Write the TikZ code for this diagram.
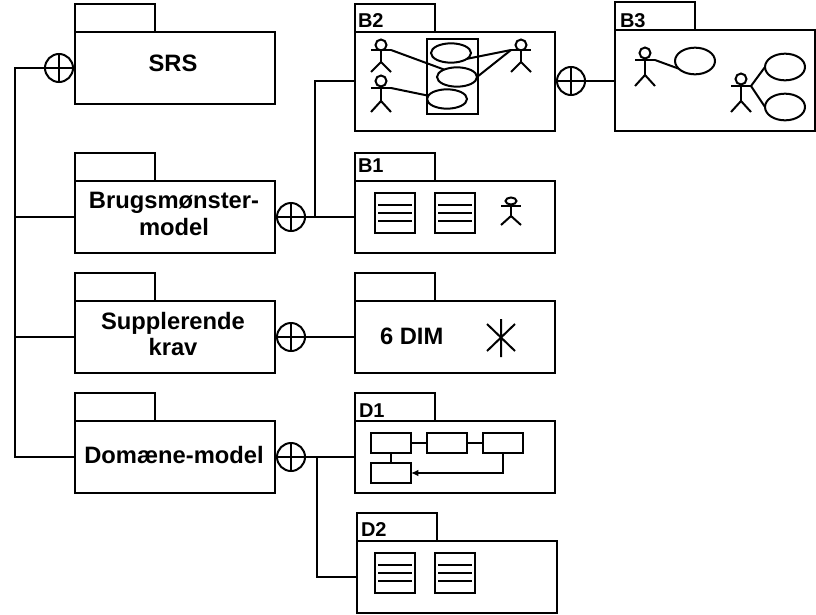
\documentclass[tikz,border=0pt]{standalone}
\usepackage{fontspec}
\setmainfont{Liberation Sans}
\usetikzlibrary{arrows.meta,shapes.geometric}
\tikzset{
  x=0.75pt,y=-0.75pt,
  every path/.style={line width=1.5pt,line join=miter},
  shape outline/.style={draw,line width=1.5pt,rectangle,inner sep=0pt,outer sep=0pt,anchor=north west},
  pkgbody/.style={shape outline,minimum width=150pt},
  pkgtab/.style={shape outline,minimum width=60pt,minimum height=21pt,anchor=south west},
  docbox/.style={shape outline,minimum width=30pt,minimum height=30pt},
  flowbox/.style={shape outline,minimum width=30pt,minimum height=15pt},
  uc/.style={draw,line width=1.5pt,ellipse,inner sep=0pt,outer sep=0pt,minimum width=30pt,minimum height=#1},
  uc/.default=14.5pt,
  plus/.style={draw,line width=1.5pt,circle,inner sep=0pt,outer sep=0pt,minimum size=21pt,fill=white,
    path picture={\draw[line width=1.5pt] (path picture bounding box.north)--(path picture bounding box.south)
      (path picture bounding box.west)--(path picture bounding box.east);}},
  mainlabel/.style={font=\fontsize{17.8pt}{20pt}\selectfont\bfseries,align=center,inner sep=0pt},
  tablabel/.style={font=\fontsize{15pt}{18pt}\selectfont\bfseries,anchor=base west,inner sep=0pt},
  conn/.style={line width=1.5pt}
}
% package: name, x, y of body top left, body height in pt
\newcommand{\pkgdraw}[4]{%
  \node[pkgbody,minimum height=#4] (#1) at (#2,#3) {};
  \node[pkgtab] (#1tab) at (#1.north west) {};
}
% actor: head x, head y, arm y, hip y, feet y, head ry
\newcommand{\actorfig}[6]{%
  \draw (#1,#2) ellipse [x radius=5.5,y radius=#6];
  \draw (#1,#2+#6) -- (#1,#4);
  \draw (#1-10,#3) -- (#1+10,#3);
  \draw (#1-10,#5) -- (#1,#4) -- (#1+10,#5);
}
\newcommand{\doclines}[2]{%
  \draw (#1+3,#2+12) -- (#1+37,#2+12) (#1+3,#2+20) -- (#1+37,#2+20) (#1+3,#2+28) -- (#1+37,#2+28);
}
\begin{document}
\begin{tikzpicture}
\useasboundingbox (0,0) rectangle (816,614);
% main packages
\pkgdraw{srs}{75}{32}{54pt}
\pkgdraw{brug}{75}{181}{54pt}
\pkgdraw{supp}{75}{301}{54pt}
\pkgdraw{dom}{75}{421}{54pt}
% detail packages
\pkgdraw{btwo}{355}{32}{74.25pt}
\pkgdraw{bone}{355}{181}{54pt}
\pkgdraw{six}{355}{301}{54pt}
\pkgdraw{done}{355}{421}{54pt}
\pkgdraw{dtwo}{357}{541}{54pt}
\pkgdraw{bthree}{615}{30}{75.75pt}
% main labels
\node[mainlabel] (lsrs) at (173,63) {SRS};
\node[mainlabel] (lbrug) at (174,214) {Brugsmønster-\\[0.2pt]model};
\node[mainlabel] (lsupp) at (173,334) {Supplerende\\[0.2pt]krav};
\node[mainlabel] (ldom) at (174,455) {Domæne-model};
\node[mainlabel,anchor=west] (lsix) at (379,336) {6 DIM};
% tab labels
\node[tablabel] (tbtwo) at (357,27) {B2};
\node[tablabel] (tbthree) at (619,27) {B3};
\node[tablabel] (tbone) at (357,172) {B1};
\node[tablabel] (tdone) at (358,417) {D1};
\node[tablabel] (tdtwo) at (360,536) {D2};
% plus circles
\node[plus] (psrs) at (59,68) {};
\node[plus] (pbrug) at (291,217) {};
\node[plus] (psupp) at (291,337) {};
\node[plus] (pdom) at (291,457) {};
\node[plus] (pbtwo) at (571,81) {};
% connectors
\coordinate (trunktop) at (15,68);
\coordinate (trunkbrug) at (15,217);
\coordinate (trunksupp) at (15,337);
\coordinate (trunkdom) at (15,457);
\coordinate (forkb) at (315,217);
\coordinate (forkbup) at (315,81);
\coordinate (forkd) at (317,457);
\coordinate (forkddown) at (317,577);
\draw[conn] (psrs.west) -- (trunktop) -- (trunkdom) -- (trunkdom -| dom.west);
\draw[conn] (trunkbrug) -- (trunkbrug -| brug.west);
\draw[conn] (trunksupp) -- (trunksupp -| supp.west);
\draw[conn] (pbrug.east) -- (pbrug.east -| bone.west);
\draw[conn] (forkb) -- (forkbup) -- (forkbup -| btwo.west);
\draw[conn] (psupp.east) -- (psupp.east -| six.west);
\draw[conn] (pdom.east) -- (pdom.east -| done.west);
\draw[conn] (forkd) -- (forkddown) -- (forkddown -| dtwo.west);
\draw[conn] (pbtwo.east) -- (pbtwo.east -| bthree.west);
% B2 contents
\node[shape outline,minimum width=38pt,minimum height=56pt] (sys) at (427,39) {};
\actorfig{381}{45}{50}{62}{72}{5.5}
\actorfig{381}{81}{88}{101}{112}{5.5}
\actorfig{521}{45}{50}{62}{72}{5.5}
\node[uc] (ea) at (451,53) {};
\node[uc] (eb) at (457,77) {};
\node[uc] (ec) at (447,99) {};
\coordinate (aone) at (391,50);
\coordinate (atwo) at (391,88);
\coordinate (athree) at (511,50);
\draw (aone) -- (eb.150);
\draw (atwo) -- (ec.170);
\draw (athree) -- (ea.-20);
\draw (athree) -- (eb.east);
% B3 contents
\actorfig{645}{53}{60}{75}{86}{5.5}
\actorfig{741}{79}{86}{101}{112}{5.5}
\node[uc=20pt] (fa) at (695,61) {};
\node[uc=20pt] (fb) at (785,67) {};
\node[uc=20pt] (fc) at (785,107) {};
\coordinate (afour) at (655,60);
\coordinate (afive) at (751,86);
\draw (afour) -- (fa.-155);
\draw (afive) -- (fb.west);
\draw (afive) -- (fc.west);
% B1 contents
\node[docbox] (dbone) at (375,193) {};
\node[docbox] (dbtwo) at (435,193) {};
\doclines{375}{193}
\doclines{435}{193}
\actorfig{511}{201}{206}{216}{225}{3.5}
% 6 DIM star
\draw (501,319) -- (501,357) (487,324) -- (515,351) (487,351) -- (515,324);
% D1 contents
\node[flowbox] (fone) at (371,433) {};
\node[flowbox] (ftwo) at (427,433) {};
\node[flowbox] (fthree) at (483,433) {};
\node[flowbox] (ffour) at (371,463) {};
\draw (fone) -- (ftwo);
\draw (ftwo) -- (fthree);
\draw (fone) -- (ffour);
\draw[-{Latex[length=5.5pt,width=5pt]},line width=1.2pt] (fthree) |- (ffour);
% D2 contents
\node[docbox] (ddone) at (375,553) {};
\node[docbox] (ddtwo) at (435,553) {};
\doclines{375}{553}
\doclines{435}{553}
\end{tikzpicture}
\end{document}
